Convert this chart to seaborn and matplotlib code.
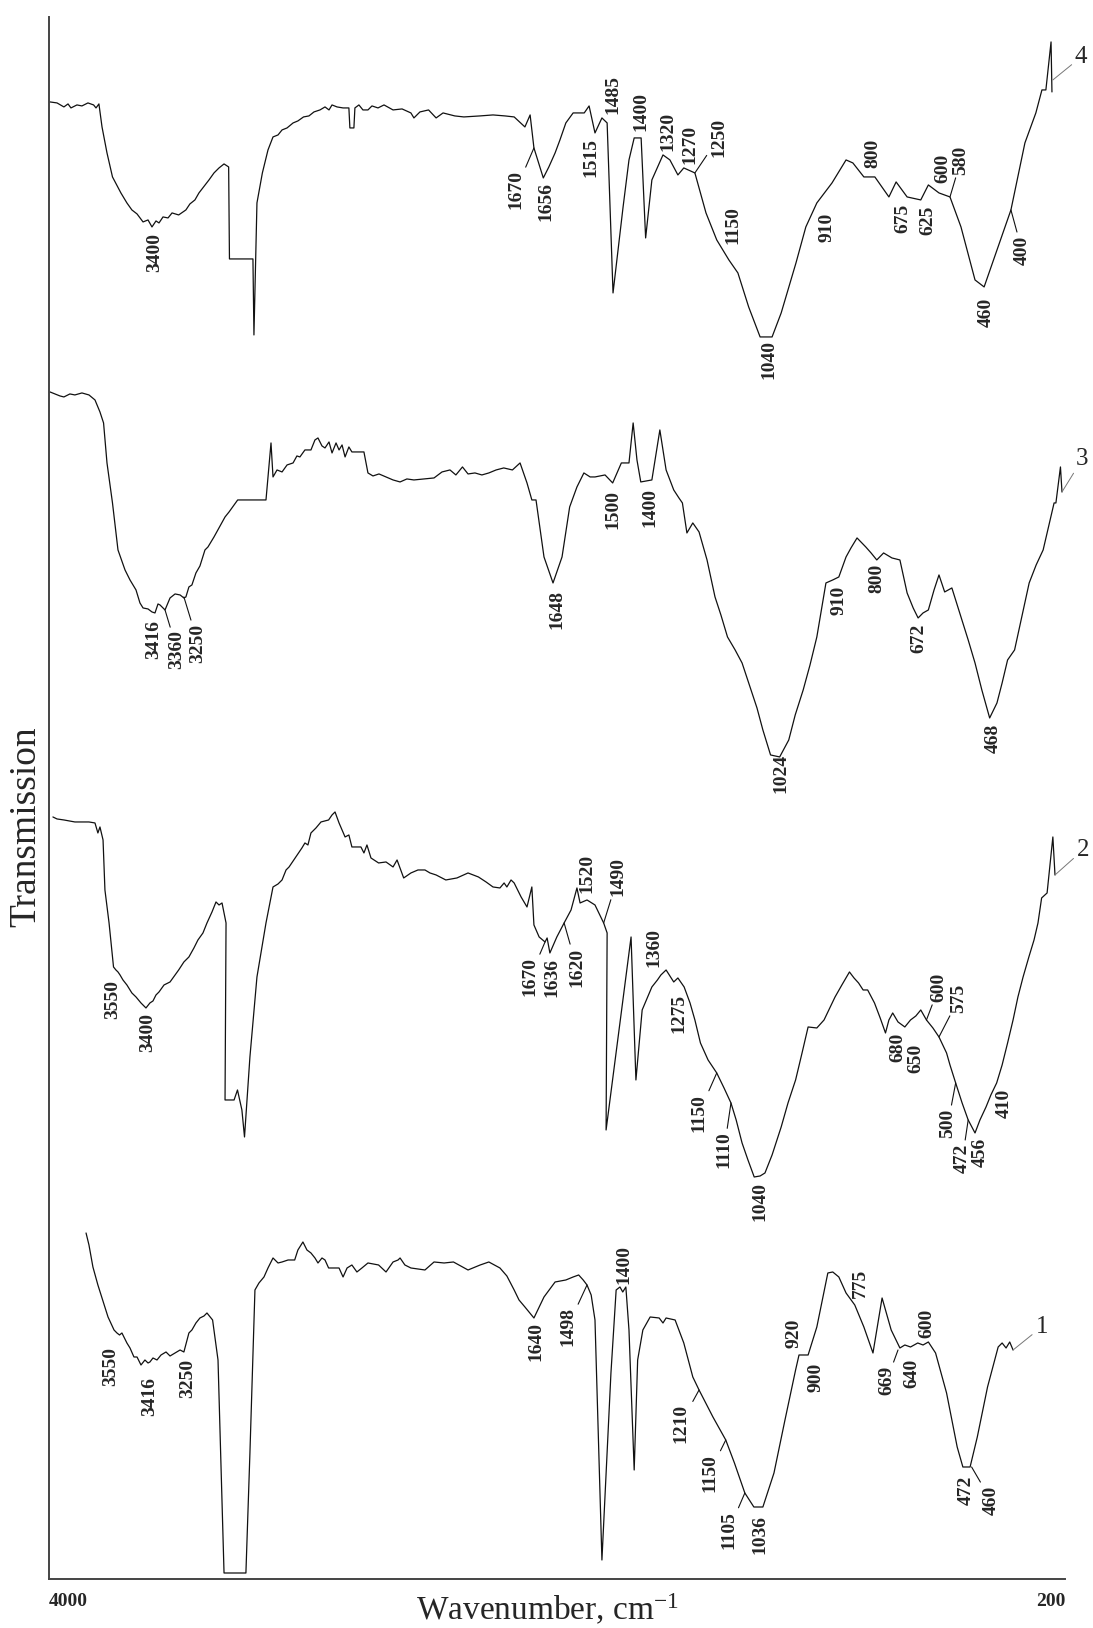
import numpy as np
import pandas as pd
import seaborn as sns
import matplotlib.pyplot as plt

# the wavenumber axis of the original is not linear: break points (cm-1)
# and where they sit along the axis (0 = 200 cm-1 ... 1016 = 4000 cm-1)
axis_wn = [0, 200, 460, 1040, 2000, 3400, 4000, 5000]
axis_pos = [-61, 0, 79, 299, 632, 913, 1016, 1188]

# spectrum 1 (bottom)
s1_wn = [3784, 3767, 3744, 3715, 3682, 3656, 3621, 3604, 3589, 3575, 3546, 3528, 3505, 3487,
         3464, 3441, 3423, 3412, 3395, 3375, 3355, 3330, 3310, 3285, 3260, 3241, 3216, 3201,
         3181, 3161, 3141, 3126, 3098, 3071, 3041, 2932, 2912, 2887, 2867, 2842, 2822, 2797,
         2772, 2752, 2722, 2689, 2673, 2648, 2628, 2608, 2588, 2573, 2553, 2538, 2520, 2468,
         2448, 2428, 2404, 2379, 2354, 2324, 2271, 2234, 2199, 2174, 2164, 2140, 2110, 2040,
         1997, 1968, 1941, 1899, 1864, 1839, 1807, 1787, 1766, 1752, 1735, 1709, 1680, 1648,
         1617, 1596, 1580, 1567, 1556, 1544, 1533, 1513, 1487, 1472, 1461, 1453, 1444, 1435,
         1420, 1410, 1395, 1374, 1348, 1337, 1328, 1302, 1277, 1251, 1233, 1193, 1156, 1131,
         1101, 1075, 1049, 1019, 990, 962, 953, 929, 906, 877, 864, 848, 829, 806, 782, 758,
         734, 710, 687, 674, 659, 640, 626, 612, 593, 564, 536, 521, 502, 483, 455, 420, 407,
         394, 382, 371]
s1_t = [346, 334, 312, 294, 276, 262, 249, 246, 244, 246, 236, 231, 222, 222,
        214, 219, 216, 217, 221, 219, 224, 227, 223, 226, 229, 227, 246, 249,
        256, 261, 263, 266, 259, 219, 6, 6, 126, 289, 296, 302, 311, 321,
        316, 317, 319, 319, 329, 337, 329, 326, 321, 316, 321, 319, 311, 311,
        302, 311, 314, 307, 311, 316, 314, 307, 317, 319, 321, 314, 311, 309,
        317, 316, 317, 309, 314, 317, 311, 303, 289, 279, 272, 261, 282, 297,
        299, 302, 304, 299, 294, 284, 259, 19, 206, 289, 292, 287, 292, 249,
        109, 219, 249, 262, 261, 256, 261, 259, 236, 202, 189, 162, 139, 116,
        86, 72, 72, 106, 159, 209, 224, 224, 252, 306, 307, 302, 286, 274, 252, 226,
        281, 249, 231, 234, 232, 236, 234, 237, 226, 186, 132, 112, 112, 142, 192, 232, 236,
        231, 237, 229]

# spectrum 2
s2_wn = [3977, 3953, 3913, 3849, 3767, 3732, 3715, 3703, 3685, 3674, 3650, 3624, 3610, 3598,
         3586, 3569, 3546, 3517, 3493, 3464, 3435, 3412, 3395, 3380, 3365, 3340, 3310, 3285,
         3267, 3241, 3216, 3191, 3171, 3146, 3126, 3101, 3081, 3066, 3051, 3031, 3036, 2991,
         2974, 2952, 2939, 2912, 2877, 2832, 2797, 2772, 2752, 2732, 2717, 2683, 2653, 2638,
         2623, 2608, 2583, 2558, 2520, 2503, 2488, 2468, 2438, 2419, 2404, 2359, 2344, 2329,
         2309, 2271, 2234, 2199, 2179, 2146, 2110, 2075, 2040, 2015, 1991, 1963, 1931, 1899,
         1869, 1847, 1827, 1807, 1795, 1787, 1775, 1766, 1746, 1729, 1715, 1709, 1694, 1677,
         1671, 1663, 1643, 1622, 1602, 1585, 1576, 1556, 1533, 1508, 1498, 1501, 1429, 1415,
         1397, 1369, 1353, 1343, 1328, 1306, 1294, 1276, 1259, 1245, 1229, 1207, 1182, 1161,
         1141, 1126, 1109, 1092, 1074, 1057, 1043, 1024, 1000, 982, 962, 945, 929, 906, 887,
         858, 840, 820, 808, 796, 784, 772, 754, 739, 725, 716, 706, 692, 674, 659, 645, 632,
         617, 600, 584, 564, 555, 540, 523, 507, 489, 476, 460, 444, 425, 407, 389, 371, 355,
         338, 319, 302, 289, 277, 259, 240, 233]
s2_t = [762, 760, 759, 757, 757, 756, 746, 752, 739, 689, 656, 612, 609, 607,
        604, 599, 594, 586, 582, 576, 571, 576, 578, 584, 587, 594, 597, 604,
        609, 617, 622, 631, 639, 646, 656, 667, 677, 674, 676, 656, 479, 479,
        489, 469, 442, 522, 602, 656, 692, 695, 699, 709, 712, 722, 731, 736,
        734, 746, 751, 757, 759, 764, 767, 756, 742, 744, 732, 732, 726, 734,
        721, 716, 717, 712, 719, 701, 706, 709, 709, 706, 704, 699, 701, 706,
        702, 697, 692, 691, 696, 692, 699, 696, 682, 672, 692, 654, 642, 637,
        641, 626, 642, 656, 669, 691, 676, 679, 674, 656, 646, 449, 642, 499,
        569, 592, 599, 604, 609, 597, 601, 592, 576, 559, 536, 519, 506, 491,
        476, 459, 436, 419, 402, 403, 406, 424, 452, 476, 499, 526, 552, 551, 559,
        582, 594, 607, 601, 596, 589, 589, 576, 561, 546, 559, 566, 557, 552, 559, 563, 569,
        559, 551, 542, 526, 514, 496, 476, 459, 446, 459, 472, 484, 496, 514, 536, 559, 582,
        602, 622, 639, 656, 681, 686, 742, 704]

# spectrum 3
s3_wn = [3994, 3965, 3936, 3913, 3878, 3849, 3808, 3767, 3732, 3703, 3682, 3662, 3630, 3598,
         3557, 3528, 3493, 3470, 3452, 3423, 3400, 3385, 3370, 3360, 3335, 3310, 3285, 3260,
         3241, 3231, 3216, 3201, 3181, 3161, 3136, 3121, 3091, 3066, 3036, 3016, 2973, 2832,
         2807, 2797, 2777, 2752, 2727, 2697, 2678, 2663, 2638, 2608, 2588, 2573, 2553, 2538,
         2518, 2503, 2483, 2468, 2453, 2438, 2419, 2404, 2344, 2324, 2299, 2269, 2234, 2199,
         2164, 2130, 2095, 2045, 1997, 1974, 1951, 1934, 1915, 1899, 1879, 1859, 1839, 1818,
         1796, 1771, 1749, 1729, 1715, 1703, 1680, 1654, 1628, 1606, 1585, 1565, 1547, 1533,
         1504, 1482, 1457, 1435, 1423, 1412, 1401, 1369, 1346, 1328, 1306, 1291, 1281, 1268,
         1251, 1233, 1210, 1187, 1170, 1151, 1129, 1109, 1083, 1066, 1049, 1028, 1004, 980,
         963, 942, 924, 906, 882, 864, 848, 829, 816, 800, 777, 763, 748, 730, 708, 687, 668,
         652, 639, 626, 612, 597, 584, 569, 550, 526, 507, 489, 471, 448, 424, 407, 389, 366,
         341, 318, 295, 272, 253, 236, 230, 215, 210]
s3_t = [1187, 1185, 1183, 1182, 1185, 1184, 1186, 1184, 1179, 1167, 1156, 1116, 1076, 1029,
        1009, 999, 989, 976, 971, 970, 967, 966, 975, 974, 969, 981, 985, 984,
        981, 982, 992, 994, 1006, 1013, 1029, 1032, 1042, 1051, 1062, 1067, 1079, 1079,
        1136, 1102, 1109, 1107, 1114, 1116, 1123, 1122, 1129, 1129, 1139, 1141, 1133, 1131,
        1137, 1126, 1136, 1129, 1134, 1122, 1132, 1127, 1127, 1106, 1103, 1105, 1102, 1099,
        1097, 1100, 1099, 1100, 1101, 1107, 1109, 1104, 1112, 1105, 1106, 1104, 1106, 1109,
        1111, 1109, 1116, 1096, 1079, 1079, 1022, 996, 1022, 1072, 1092, 1106, 1102, 1102,
        1104, 1096, 1116, 1116, 1156, 1119, 1097, 1099, 1149, 1109, 1089, 1081, 1076, 1046,
        1056, 1047, 1019, 982, 964, 942, 929, 916, 889, 871, 849, 824, 822, 839,
        864, 889, 914, 942, 996, 999, 1002, 1022, 1031, 1041, 1032, 1026, 1019, 1026, 1021, 1019, 986,
        971, 961, 966, 969, 989, 1004, 987, 991, 962, 939, 916, 889, 861, 876, 896, 919, 929,
        964, 996, 1014, 1029, 1054, 1076, 1076, 1112, 1087]

# spectrum 4 (top)
s4_wn = [3994, 3953, 3913, 3889, 3872, 3837, 3808, 3773, 3740, 3726, 3709, 3691, 3662, 3630,
         3581, 3546, 3517, 3487, 3452, 3423, 3400, 3380, 3365, 3345, 3320, 3300, 3267, 3231,
         3211, 3186, 3166, 3143, 3116, 3091, 3066, 3041, 3018, 3014, 2897, 2892, 2877, 2850,
         2822, 2797, 2772, 2752, 2727, 2697, 2673, 2645, 2618, 2593, 2563, 2538, 2518, 2503,
         2478, 2448, 2419, 2414, 2394, 2389, 2369, 2349, 2324, 2304, 2274, 2244, 2199, 2154,
         2110, 2095, 2065, 2022, 1991, 1971, 1937, 1911, 1865, 1827, 1792, 1766, 1735, 1720,
         1709, 1682, 1666, 1648, 1634, 1617, 1596, 1564, 1550, 1533, 1513, 1498, 1481, 1452,
         1435, 1420, 1400, 1387, 1369, 1337, 1317, 1294, 1277, 1245, 1213, 1182, 1147, 1121,
         1090, 1057, 1024, 1000, 961, 935, 906, 866, 829, 811, 782, 753, 716, 697, 668, 632,
         612, 584, 555, 526, 489, 465, 424, 378, 332, 296, 276, 263, 246, 243]
s4_t = [1477, 1476, 1472, 1475, 1471, 1474, 1473, 1476, 1474, 1471, 1475, 1452, 1426, 1402,
        1386, 1376, 1369, 1365, 1357, 1359, 1352, 1358, 1356, 1362, 1361, 1366, 1364, 1369,
        1375, 1379, 1386, 1392, 1399, 1406, 1411, 1415, 1412, 1320, 1320, 1244, 1376, 1406,
        1429, 1442, 1444, 1449, 1451, 1456, 1458, 1462, 1463, 1467, 1469, 1472, 1469, 1474,
        1472, 1471, 1471, 1451, 1451, 1471, 1474, 1469, 1469, 1473, 1471, 1474, 1469, 1470,
        1466, 1461, 1467, 1469, 1461, 1466, 1463, 1462, 1463, 1464, 1463, 1462, 1452, 1464,
        1431, 1401, 1412, 1426, 1439, 1456, 1466, 1466, 1473, 1446, 1461, 1456, 1286, 1372,
        1419, 1441, 1441, 1341, 1399, 1424, 1419, 1404, 1411, 1406, 1366, 1339, 1319, 1306,
        1272, 1242, 1242, 1266, 1316, 1352, 1376, 1396, 1419, 1416, 1402, 1402, 1382, 1397, 1382, 1379,
        1394, 1386, 1382, 1352, 1299, 1292, 1329, 1369, 1436, 1466, 1489, 1489, 1537, 1487]

# peak labels: text, label position (cm-1, T), point of the leader on the curve
s1_peaks = [("3550", 3639, 212, None, None), ("3416", 3412, 182, None, None),
            ("3250", 3223, 201, None, None), ("1640", 1703, 237, None, None),
            ("1498", 1612, 252, 1556, 294), ("1400", 1449, 314, None, None),
            ("1210", 1285, 156, 1233, 189), ("1150", 1203, 106, 1156, 139),
            ("1105", 1147, 49, 1101, 86), ("1036", 1057, 44, None, None),
            ("920", 966, 246, None, None), ("900", 909, 202, None, None),
            ("775", 792, 296, None, None), ("669", 721, 199, 692, 229),
            ("640", 655, 206, None, None), ("600", 617, 256, None, None),
            ("472", 513, 89, None, None), ("460", 444, 79, 498, 112)]
s2_peaks = [("3550", 3630, 579, None, None), ("3400", 3423, 546, None, None),
            ("1670", 1720, 602, 1677, 637), ("1636", 1657, 601, None, None),
            ("1620", 1586, 612, 1622, 656), ("1520", 1556, 706, None, None),
            ("1490", 1467, 702, 1508, 656), ("1360", 1363, 631, None, None),
            ("1275", 1291, 566, None, None), ("1150", 1233, 466, 1182, 506),
            ("1110", 1161, 429, 1141, 476), ("1040", 1057, 377, None, None),
            ("680", 692, 532, None, None), ("650", 645, 521, None, None),
            ("600", 584, 592, 617, 559), ("575", 531, 581, 584, 542),
            ("500", 560, 456, 540, 496), ("472", 522, 421, 507, 459),
            ("456", 474, 427, None, None), ("410", 401, 476, None, None)]
s3_peaks = [("3416", 3392, 939, None, None), ("3360", 3275, 929, 3335, 969),
            ("3250", 3171, 936, 3241, 982), ("1648", 1643, 969, None, None),
            ("1500", 1482, 1069, None, None), ("1400", 1374, 1071, None, None),
            ("1024", 1000, 806, None, None), ("910", 848, 979, None, None),
            ("800", 748, 1001, None, None), ("672", 637, 941, None, None),
            ("468", 437, 841, None, None)]
s4_peaks = [("3400", 3385, 1326, None, None), ("1670", 1761, 1389, 1709, 1431),
            ("1656", 1674, 1377, None, None), ("1515", 1545, 1421, None, None),
            ("1485", 1482, 1484, None, None), ("1400", 1400, 1467, None, None),
            ("1320", 1322, 1447, None, None), ("1270", 1259, 1434, None, None),
            ("1250", 1177, 1441, 1245, 1406), ("1150", 1136, 1354, None, None),
            ("1040", 1032, 1219, None, None), ("910", 879, 1352, None, None),
            ("800", 759, 1426, None, None), ("675", 680, 1361, None, None),
            ("625", 612, 1359, None, None), ("600", 573, 1411, None, None),
            ("580", 526, 1419, 555, 1382), ("460", 460, 1267, None, None),
            ("400", 342, 1329, 378, 1369)]

# sample numbers at the right end of each curve
sample_tags = [("1", 277, 252, 371, 229), ("2", 141, 729, 233, 704),
               ("3", 143, 1120, 210, 1087), ("4", 147, 1522, 240, 1499)]


def fwd(w):
    return np.interp(w, axis_wn, axis_pos)


def inv(u):
    return np.interp(u, axis_pos, axis_wn)


sns.set_theme(style='white')
plt.rcParams['font.family'] = ['Liberation Serif', 'DejaVu Serif']
plt.rcParams['mathtext.fontset'] = 'custom'
plt.rcParams['mathtext.rm'] = 'Liberation Serif'
plt.rcParams['mathtext.it'] = 'Liberation Serif:italic'

fig = plt.figure(figsize=(10.93, 16.28), dpi=100)
ax = fig.add_axes([0.0448, 0.0301, 0.9296, 0.9595])

spectra = [(s1_wn, s1_t), (s2_wn, s2_t), (s3_wn, s3_t), (s4_wn, s4_t)]
for wn, t in spectra:
    df = pd.DataFrame({'wn': wn, 't': t})
    sns.lineplot(data=df, x='wn', y='t', sort=False, estimator=None,
                 color='#111111', lw=0.9, ax=ax)

ax.set_xscale('function', functions=(fwd, inv))
ax.set_xlim(4000, 200)
ax.set_ylim(0, 1562)

for peaks in [s1_peaks, s2_peaks, s3_peaks, s4_peaks]:
    for txt, lx, ly, cx, cy in peaks:
        if cx is None:
            ax.text(lx, ly, txt, rotation=90, ha='center', va='center',
                    fontsize=14, fontweight='bold')
        else:
            ax.annotate(txt, xy=(cx, cy), xytext=(lx, ly), rotation=90,
                        ha='center', va='center', fontsize=14, fontweight='bold',
                        arrowprops=dict(arrowstyle='-', color='#111111', lw=0.8,
                                        shrinkA=0, shrinkB=0))

for txt, lx, ly, cx, cy in sample_tags:
    ax.annotate(txt, xy=(cx, cy), xytext=(lx, ly), ha='center', va='center',
                fontsize=18, annotation_clip=False,
                arrowprops=dict(arrowstyle='-', color='#777777', lw=0.7,
                                shrinkA=0, shrinkB=0))

sns.despine(ax=ax)
for side in ['left', 'bottom']:
    ax.spines[side].set_color('#444444')
    ax.spines[side].set_linewidth(1.4)

ax.set_yticks([])
ax.set_xticks([4000, 200])
ax.set_xticklabels(['4000', '200'], fontsize=14, fontweight='bold')
ax.tick_params(axis='x', length=0, pad=10)
labs = ax.get_xticklabels()
labs[0].set_ha('left')
labs[1].set_ha('right')

ax.set_xlabel('Wavenumber, cm$^{-1}$', fontsize=24)
ax.xaxis.label.set_va('center')
ax.xaxis.set_label_coords(0.491, -0.0198)
ax.set_ylabel('Transmission', fontsize=27)
ax.yaxis.label.set_va('center')
ax.yaxis.set_label_coords(-0.0226, 0.4814)

fig.savefig('out.png', dpi=100)
